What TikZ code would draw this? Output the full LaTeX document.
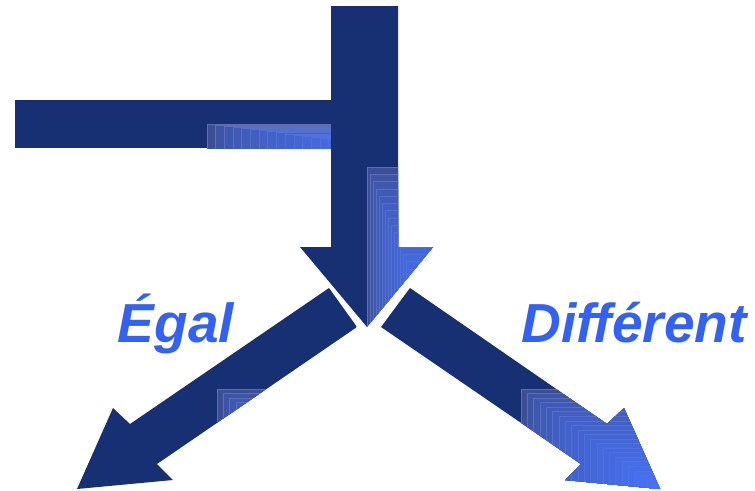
\documentclass[tikz,border=0pt]{standalone}
\usepackage{fontspec}
\newfontfamily\arial{Liberation Sans}

\definecolor{marine}{RGB}{23,47,115}
\definecolor{bleugris}{RGB}{95,110,170}
\definecolor{bleuterne}{RGB}{60,78,150}
\definecolor{bleuvif}{RGB}{72,114,245}
\definecolor{bleutexte}{RGB}{52,98,240}

\tikzset{
  etiquette/.style={font=\arial\bfseries\itshape\fontsize{55}{60}\selectfont,
    text=bleutexte, inner sep=0pt, anchor=base}
}

% degrade en rectangles emboites, vers le coin bas-droit
\newcommand{\degrade}[4]{%
  \foreach \i in {0,...,22}{%
    \pgfmathsetmacro{\p}{100*(\i/22)^0.55}%
    \filldraw[fill=bleuvif!\p!bleuterne, draw=bleuvif!\p!bleugris, line width=0.6pt]
      ({#1+\i*(#3-#1)/22},{#2+\i*(#4-#2)/22}) rectangle (#3+2,#4+2);
  }}

\begin{document}
\begin{tikzpicture}[x=1pt,y=-1pt]
		\useasboundingbox (0,0) rectangle (755,490);
		
		% barre horizontale
		\begin{scope}
			\clip (15,100) rectangle (385,148);
			\fill[marine] (15,100) rectangle (385,148);
			\degrade{207}{124}{398}{148}
		\end{scope}
		
		% fleche verticale
		\begin{scope}
			\clip (331,6) -- (398,6) -- (398,247) -- (433,247) -- (367,327)
			-- (300,247) -- (331,247) -- cycle;
			\fill[marine] (300,6) rectangle (433,327);
			\degrade{367}{167}{433}{327}
		\end{scope}
		
		% fleche gauche
		\begin{scope}
			\clip (329,288) -- (357,327) -- (157,464) -- (173,480) -- (77,489)
			-- (113,408) -- (130,424) -- cycle;
			\fill[marine] (77,288) rectangle (357,489);
			\degrade{217}{389}{357}{489}
		\end{scope}
		
		% fleche droite
		\begin{scope}
			\clip (410,288) -- (381,327) -- (581,464) -- (565,480) -- (660,489)
			-- (624,408) -- (607,424) -- cycle;
			\fill[marine] (381,288) rectangle (660,489);
			\degrade{521}{389}{660}{489}
		\end{scope}
		
		% textes
		\node[etiquette] (egal) at (176,342) {Égal};
		\node[etiquette] (diff) at (634,342) {Différent};
	\end{tikzpicture}
\end{document}
